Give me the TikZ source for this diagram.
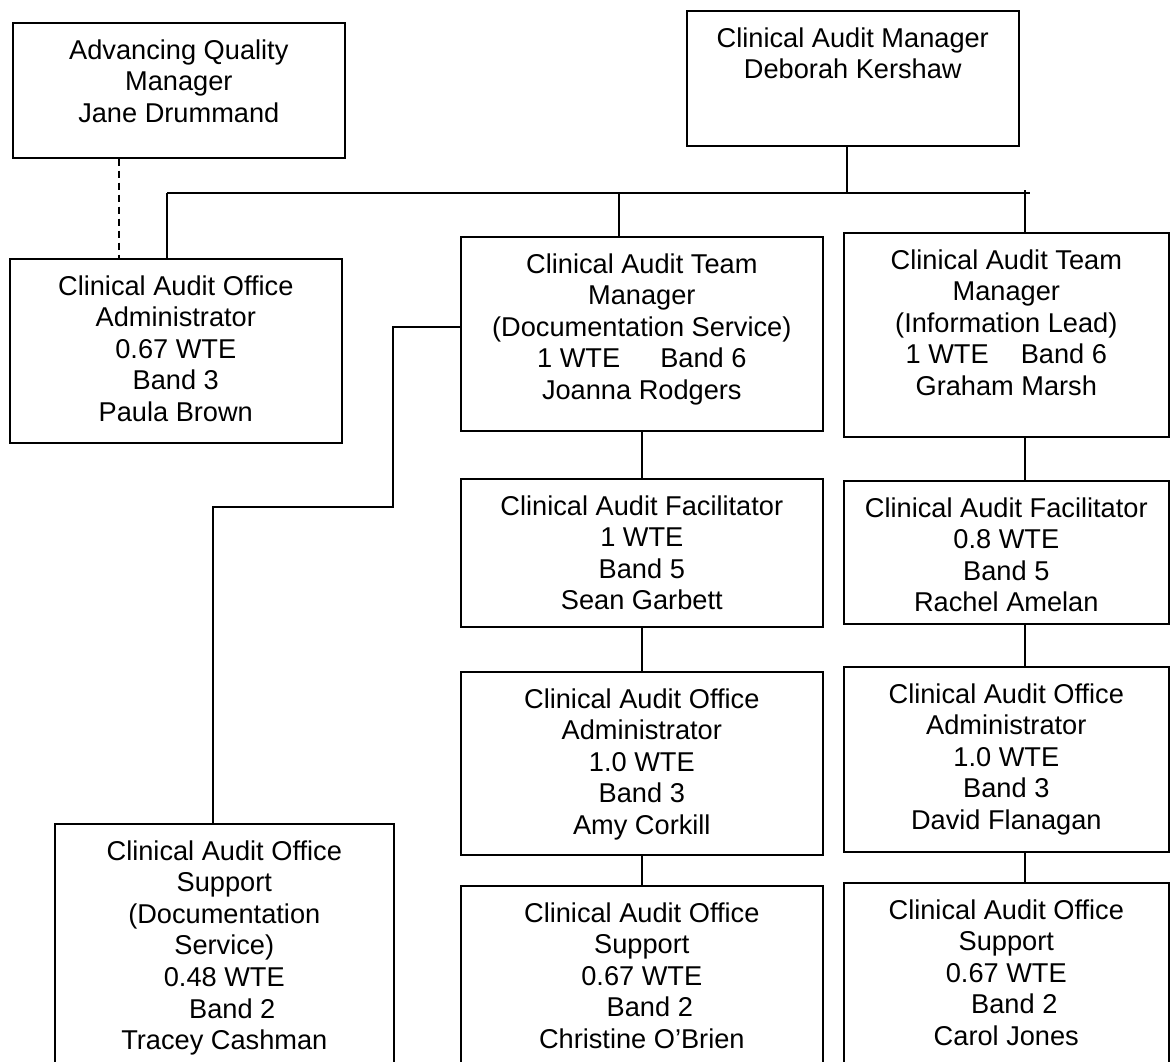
\documentclass[tikz,border=0pt]{standalone}
\usepackage{fontspec}
\setmainfont{Liberation Sans}
\begin{document}
\begin{tikzpicture}[x=0.5pt,y=-0.5pt]
    \tikzstyle{post} = [draw = black, line width = 0.8pt, rectangle, anchor = north west, inner sep = 0pt]
    \tikzstyle{title} = [anchor = north, align = center, inner sep = 0pt, yshift = -8.5pt, font = \fontsize{13.6}{15.8}\selectfont]
    \tikzstyle{line} = [line width = 0.8pt]
    \useasboundingbox (0,0) rectangle (1170,1061);

    % top row
    \node[post, minimum width = 166pt, minimum height = 67.5pt](aqm) at (12,22){};
    \node[post, minimum width = 166pt, minimum height = 67.5pt](cam) at (686,10){};
    \node[title](aqm-t) at (aqm.north){Advancing Quality\\Manager\\Jane Drummand};
    \node[title](cam-t) at (cam.north){Clinical Audit Manager\\Deborah Kershaw};

    % second row
    \node[post, minimum width = 166pt, minimum height = 92pt](adm0) at (9,258){};
    \node[post, minimum width = 181pt, minimum height = 97pt](tmd) at (460,236){};
    \node[post, minimum width = 162.5pt, minimum height = 102pt](tmi) at (843,232){};
    \node[title](adm0-t) at (adm0.north){Clinical Audit Office\\Administrator\\0.67 WTE\\Band 3\\Paula Brown};
    \node[title](tmd-t) at (tmd.north){Clinical Audit Team\\Manager\\(Documentation Service)\\1 WTE\hspace{20pt}Band 6\\Joanna Rodgers};
    \node[title](tmi-t) at (tmi.north){Clinical Audit Team\\Manager\\(Information Lead)\\1 WTE\hspace{16pt}Band 6\\Graham Marsh};

    % facilitators
    \node[post, minimum width = 181pt, minimum height = 74pt](fad) at (460,478){};
    \node[post, minimum width = 162.5pt, minimum height = 71.5pt](fai) at (843,480){};
    \node[title](fad-t) at (fad.north){Clinical Audit Facilitator\\1 WTE\\Band 5\\Sean Garbett};
    \node[title](fai-t) at (fai.north){Clinical Audit Facilitator\\0.8 WTE\\Band 5\\Rachel Amelan};

    % administrators
    \node[post, minimum width = 181pt, minimum height = 91.5pt](add) at (460,671){};
    \node[post, minimum width = 162.5pt, minimum height = 92.5pt](adi) at (843,666){};
    \node[title](add-t) at (add.north){Clinical Audit Office\\Administrator\\1.0 WTE\\Band 3\\Amy Corkill};
    \node[title](adi-t) at (adi.north){Clinical Audit Office\\Administrator\\1.0 WTE\\Band 3\\David Flanagan};

    % support (bottom edges run off the page)
    \node[post, minimum width = 169.5pt, minimum height = 125pt](sul) at (54,823){};
    \node[post, minimum width = 181pt, minimum height = 95pt](sud) at (460,885){};
    \node[post, minimum width = 162.5pt, minimum height = 95pt](sui) at (843,882){};
    \node[title](sul-t) at (sul.north){Clinical Audit Office\\Support\\(Documentation\\Service)\\0.48 WTE\\\hspace*{8pt}Band 2\\Tracey Cashman};
    \node[title](sud-t) at (sud.north){Clinical Audit Office\\Support\\0.67 WTE\\\hspace*{8pt}Band 2\\Christine O'Brien};
    \node[title](sui-t) at (sui.north){Clinical Audit Office\\Support\\0.67 WTE\\\hspace*{8pt}Band 2\\Carol Jones};

    \coordinate(busL) at (167,193);
    \coordinate(busR) at (1030,193);
    \coordinate(elbow) at (393,507);

    \draw[line](busL)--(busR);
    \draw[line]([xshift=-3pt]cam.south)--([xshift=-3pt]cam.south |- busL);
    \draw[line](busL)--(busL |- adm0.north);
    \draw[line]([xshift=-11.5pt]tmd.north)--([xshift=-11.5pt]tmd.north |- busL);
    \draw[line]([xshift=9.25pt]tmi.north)--++(0,-42);
    \draw[line, dash pattern = on 3.5pt off 2.5pt]([xshift=-30pt]aqm.south)--([xshift=-30pt]aqm.south |- adm0.north);

    \draw[line]([yshift=3.5pt]tmd.west)-|(elbow)-|([xshift=-5.75pt]sul.north);

    \draw[line](tmd)--(fad);
    \draw[line](fad)--(add);
    \draw[line](add)--(sud);
    \draw[line]([xshift=9.25pt]tmi.south)--([xshift=9.25pt]fai.north);
    \draw[line]([xshift=9.25pt]fai.south)--([xshift=9.25pt]adi.north);
    \draw[line]([xshift=9.25pt]adi.south)--([xshift=9.25pt]sui.north);

    \end{tikzpicture}
\end{document}
